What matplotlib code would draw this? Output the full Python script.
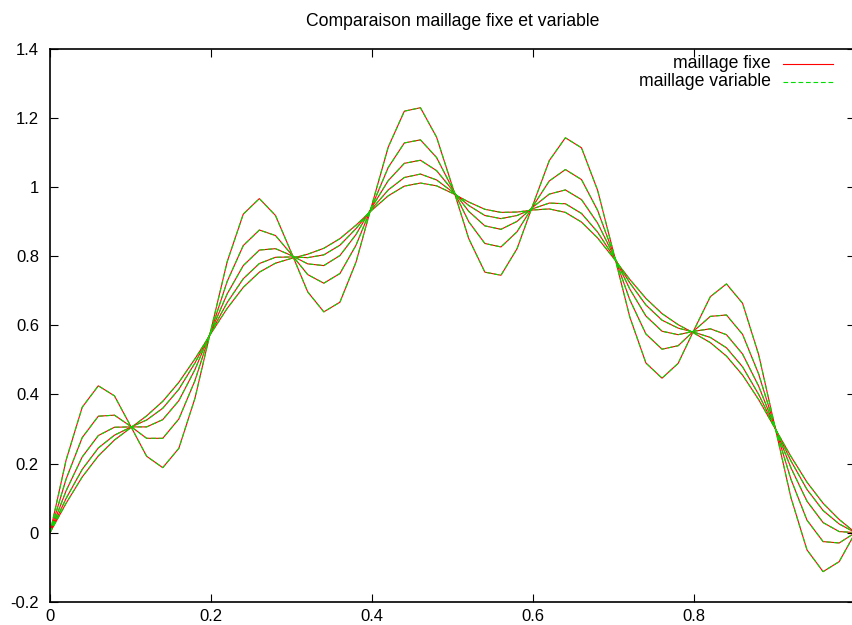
# -*- coding: utf-8 -*-
import numpy as np
import matplotlib
matplotlib.use("Agg")
import matplotlib.pyplot as plt
from matplotlib.lines import Line2D

plt.rcParams['font.family'] = ['Liberation Sans', 'DejaVu Sans']
plt.rcParams['lines.scale_dashes'] = False

# mesh nodes, 0 to 1 step 0.02
x_nodes = [0.00, 0.02, 0.04, 0.06, 0.08, 0.10, 0.12, 0.14, 0.16, 0.18,
           0.20, 0.22, 0.24, 0.26, 0.28, 0.30, 0.32, 0.34, 0.36, 0.38,
           0.40, 0.42, 0.44, 0.46, 0.48, 0.50, 0.52, 0.54, 0.56, 0.58,
           0.60, 0.62, 0.64, 0.66, 0.68, 0.70, 0.72, 0.74, 0.76, 0.78,
           0.80, 0.82, 0.84, 0.86, 0.88, 0.90, 0.92, 0.94, 0.96, 0.98,
           1.00]

# solution at successive times, fixed mesh
u_t0 = [0.000, 0.210, 0.363, 0.425, 0.396, 0.309, 0.221, 0.188, 0.244, 0.389,
        0.588, 0.784, 0.922, 0.967, 0.918, 0.809, 0.697, 0.639, 0.667, 0.783,
        0.951, 1.116, 1.220, 1.230, 1.145, 1.000, 0.851, 0.754, 0.745, 0.822,
        0.951, 1.077, 1.143, 1.114, 0.991, 0.809, 0.624, 0.491, 0.447, 0.490,
        0.588, 0.683, 0.720, 0.664, 0.515, 0.309, 0.102, -0.050, -0.113, -0.084,
        0.000]
u_t1 = [0.000, 0.155, 0.275, 0.337, 0.340, 0.308, 0.273, 0.273, 0.329, 0.440,
        0.585, 0.727, 0.831, 0.876, 0.860, 0.805, 0.747, 0.722, 0.750, 0.832,
        0.946, 1.057, 1.128, 1.137, 1.086, 0.995, 0.900, 0.837, 0.827, 0.871,
        0.946, 1.018, 1.051, 1.022, 0.933, 0.805, 0.674, 0.575, 0.531, 0.541,
        0.585, 0.626, 0.630, 0.574, 0.459, 0.308, 0.155, 0.036, -0.026, -0.030,
        0.000]
u_t2 = [0.000, 0.121, 0.219, 0.281, 0.305, 0.306, 0.306, 0.327, 0.382, 0.472,
        0.583, 0.691, 0.773, 0.818, 0.822, 0.802, 0.778, 0.773, 0.802, 0.863,
        0.943, 1.019, 1.069, 1.078, 1.048, 0.991, 0.930, 0.888, 0.878, 0.901,
        0.943, 0.980, 0.992, 0.964, 0.896, 0.802, 0.705, 0.627, 0.583, 0.573,
        0.583, 0.590, 0.573, 0.517, 0.424, 0.306, 0.188, 0.091, 0.029, 0.003,
        0.000]
u_t3 = [0.000, 0.099, 0.183, 0.245, 0.282, 0.305, 0.326, 0.360, 0.415, 0.491,
        0.580, 0.666, 0.735, 0.779, 0.797, 0.798, 0.796, 0.804, 0.832, 0.880,
        0.938, 0.992, 1.028, 1.038, 1.021, 0.986, 0.947, 0.918, 0.909, 0.918,
        0.938, 0.954, 0.952, 0.924, 0.870, 0.798, 0.723, 0.659, 0.615, 0.592,
        0.580, 0.565, 0.535, 0.480, 0.400, 0.305, 0.208, 0.125, 0.064, 0.025,
        0.000]
u_t4 = [0.000, 0.085, 0.161, 0.222, 0.268, 0.303, 0.338, 0.380, 0.435, 0.503,
        0.577, 0.649, 0.710, 0.754, 0.780, 0.794, 0.806, 0.823, 0.851, 0.890,
        0.934, 0.975, 1.003, 1.012, 1.004, 0.982, 0.957, 0.936, 0.927, 0.928,
        0.934, 0.937, 0.927, 0.899, 0.853, 0.794, 0.733, 0.678, 0.634, 0.602,
        0.577, 0.550, 0.511, 0.456, 0.385, 0.303, 0.221, 0.146, 0.085, 0.038,
        0.000]

fixed_curves = [u_t0, u_t1, u_t2, u_t3, u_t4]
# variable mesh gives the same profiles at this scale
var_x = x_nodes
var_curves = [u_t0, u_t1, u_t2, u_t3, u_t4]

y_ticks = [-0.2, 0, 0.2, 0.4, 0.6, 0.8, 1, 1.2, 1.4]
x_ticks = [0, 0.2, 0.4, 0.6, 0.8]

RED = '#ff0000'
GREEN = '#00dd00'
W, H = 852, 625

fig = plt.figure(figsize=(W / 100, H / 100), dpi=100)
# plot frame runs a few pixels past the right edge
left, right, top, bottom = 50.0, 855.3, 49.0, 601.7
ax = fig.add_axes([left / W, 1 - bottom / H, (right - left) / W, (bottom - top) / H])

for u in fixed_curves:
    ax.plot(x_nodes, u, color=RED, lw=0.8, solid_joinstyle='miter')
for u in var_curves:
    ax.plot(var_x, u, color=GREEN, lw=0.8, dashes=(3.4, 2.0))

ax.set_xlim(0, 1)
ax.set_ylim(-0.2, 1.4)
ax.set_xticks(x_ticks)
ax.set_xticklabels(["%g" % v for v in x_ticks])
ax.set_yticks(y_ticks)
ax.set_yticklabels(["%g" % v for v in y_ticks])
ax.tick_params(direction='in', top=True, right=True, length=5.8, width=0.8,
               labelsize=12, pad=8)
ax.tick_params(axis='x', pad=5.5)
for sp in ax.spines.values():
    sp.set_linewidth(1.2)

fig.text((left + right) / 2 / W, 1 - 22 / H, "Comparaison maillage fixe et variable",
         ha='center', va='center', fontsize=12.7)

# key, top right
for label, color, dash, ypx in (("maillage fixe", RED, None, 64),
                               ("maillage variable", GREEN, (3.4, 2.0), 82)):
    fig.text(771 / W, 1 - ypx / H, label, ha='right', va='center', fontsize=12.7)
    ln = Line2D([783 / W, 833 / W], [1 - ypx / H, 1 - ypx / H], color=color, lw=0.8,
                transform=fig.transFigure)
    if dash:
        ln.set_dashes(dash)
    fig.add_artist(ln)

fig.savefig("out.png", dpi=100)
